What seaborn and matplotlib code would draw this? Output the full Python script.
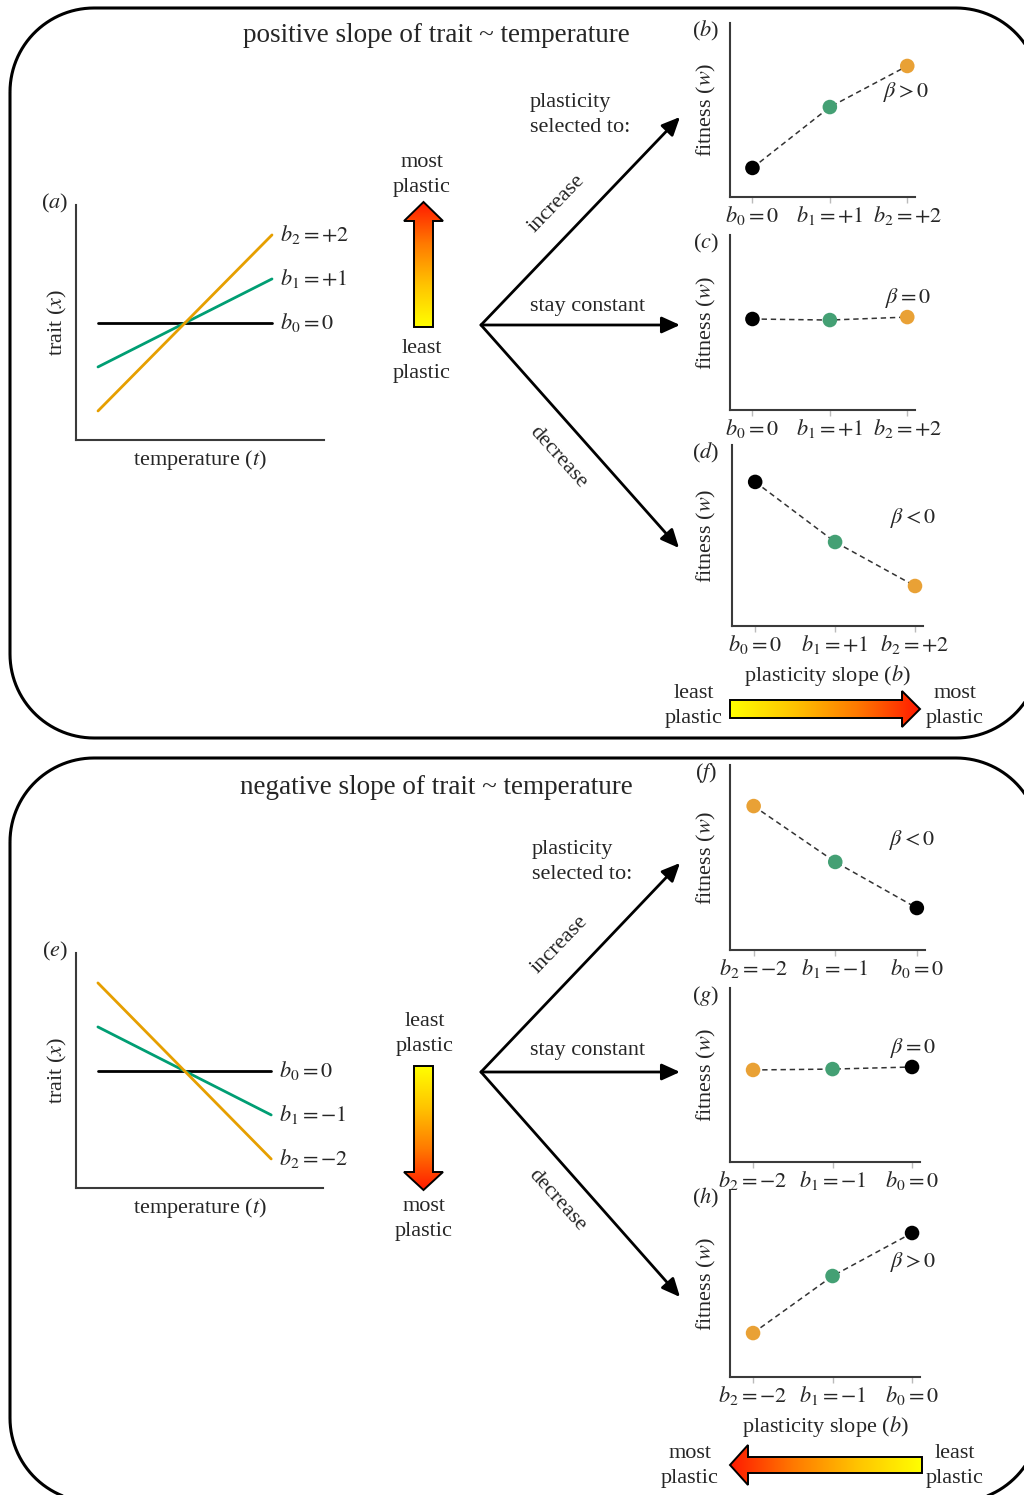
"""Plasticity selection diagram: trait ~ temperature slopes and fitness."""

import matplotlib

matplotlib.use("Agg")
import matplotlib.pyplot as plt  # noqa: E402
import numpy as np
import pandas as pd
import seaborn as sns
from matplotlib.colors import LinearSegmentedColormap
from matplotlib.patches import Polygon

# ---- data -------------------------------------------------------------
temperature = [-1.0, 1.0]
slopes_pos = [0, 1, 2]
slopes_neg = [0, -1, -2]
slope_labels_pos = [r"$b_0{=}0$", r"$b_1{=}{+}1$", r"$b_2{=}{+}2$"]
slope_labels_neg = [r"$b_0{=}0$", r"$b_1{=}{-}1$", r"$b_2{=}{-}2$"]

# fitness panels: x order as drawn on the axis
fit_ticks_pos = [r"$b_0{=}0$", r"$b_1{=}{+}1$", r"$b_2{=}{+}2$"]
fit_ticks_neg = [r"$b_2{=}{-}2$", r"$b_1{=}{-}1$", r"$b_0{=}0$"]
fit_b = [0.167, 0.517, 0.753]
fit_c = [0.520, 0.514, 0.531]
fit_d = [0.796, 0.464, 0.221]
fit_f = [0.778, 0.476, 0.227]
fit_g = [0.529, 0.534, 0.546]
fit_h = [0.235, 0.540, 0.770]
beta_labels = [r"$\beta{>}0$", r"$\beta{=}0$", r"$\beta{<}0$"]

LINE_COL = {0: "black", 1: "#009E73", 2: "#E69F00"}
DOT_COL = {0: "black", 1: "#44A074", 2: "#E9A135"}

W, H = 1024, 1495
FS = 16

sns.set_style("white")
plt.rcParams["font.family"] = ["Liberation Serif", "DejaVu Serif"]
plt.rcParams["mathtext.fontset"] = "stix"

fig = plt.figure(figsize=(W / 100, H / 100), dpi=100)

# overlay in pixel coordinates
ov = fig.add_axes([0, 0, 1, 1])
ov.axis("off")


def px_axes(left, top, right, bottom):
    ax = fig.add_axes([left / W, 1 - bottom / H, (right - left) / W, (bottom - top) / H])
    ax.set_facecolor("none")
    for s in ("top", "right"):
        ax.spines[s].set_visible(False)
    for s in ("left", "bottom"):
        ax.spines[s].set_color("#3a3a3a")
        ax.spines[s].set_linewidth(1.5)
    return ax


def rounded_box(x0, y0, x1, y1, r):
    pts = []
    corners = [((x0 + r, y0 + r), 180), ((x1 - r, y0 + r), 270),
               ((x1 - r, y1 - r), 0), ((x0 + r, y1 - r), 90)]
    for (cx, cy), a0 in corners:
        th = np.radians(np.linspace(a0, a0 + 90, 30))
        pts.extend(zip(cx + r * np.cos(th), cy + r * np.sin(th)))
    ov.add_patch(Polygon(pts, closed=True, fc="none", ec="black", lw=2.2, zorder=1))


def trait_panel(rect, slopes, labels, letter):
    ax = px_axes(*rect)
    for b, lab in zip(slopes, labels):
        df = pd.DataFrame({"t": temperature, "x": [b * t for t in temperature]})
        sns.lineplot(data=df, x="t", y="x", ax=ax, color=LINE_COL[abs(b)], lw=2.0)
        ax.text(1.09, b * 1.0 + 0.0, lab, fontsize=FS, va="center", ha="left")
    ax.set_xlim(-1.253, 1.598)
    ax.set_ylim(-2.66, 2.68)
    ax.set_xticks([])
    ax.set_yticks([])
    ax.set_xlabel("")
    ax.set_ylabel("")
    left, top, right, bottom = rect
    ov.text(55, top - 2, f"(${letter}$)", fontsize=FS, ha="center", va="center")
    ov.text(57, (top + bottom) / 2, "trait ($x$)", fontsize=FS, rotation=90,
            ha="center", va="center")
    ov.text(200, bottom + 20, "temperature ($t$)", fontsize=FS, ha="center", va="center")


def fitness_panel(rect, values, ticks, order, letter, beta, beta_xy, xlabel=False):
    ax = px_axes(*rect)
    df = pd.DataFrame({"pos": [0, 1, 2], "w": values, "b": order})
    sns.lineplot(data=df, x="pos", y="w", ax=ax, color="#333333", lw=1.1,
                 linestyle=(0, (3.5, 2.5)), zorder=2)
    sns.scatterplot(data=df, x="pos", y="w", hue="b", palette=DOT_COL, s=110,
                    edgecolor="none", legend=False, ax=ax, zorder=3)
    ax.set_xlim(-0.29, 2.1)
    ax.set_ylim(0, 1)
    ax.set_yticks([])
    ax.set_xticks([0, 1, 2], ticks)
    ax.tick_params(axis="x", bottom=True, length=4, width=1, color="#bbbbbb",
                   labelsize=FS, pad=1)
    ax.set_ylabel("")
    if xlabel:
        ax.set_xlabel("plasticity slope ($b$)", fontsize=FS, labelpad=5)
    else:
        ax.set_xlabel("")
    left, top, right, bottom = rect
    ov.text(706, top + 8, f"(${letter}$)", fontsize=FS, ha="center", va="center")
    ov.text(706, (top + bottom) / 2, "fitness ($w$)", fontsize=FS, rotation=90,
            ha="center", va="center")
    ov.text(beta_xy[0], beta_xy[1], beta, fontsize=FS, ha="center", va="center")


grad_cmap = LinearSegmentedColormap.from_list("plastic", ["#ffff00", "#ffc400", "#ff7a00", "#ff1a00"])
grad = np.linspace(0, 1, 256)


def grad_arrow(verts, extent, arr):
    poly = Polygon(verts, closed=True, fc="none", ec="black", lw=1.4, zorder=4)
    ov.add_patch(poly)
    im = ov.imshow(arr, cmap=grad_cmap, extent=extent, origin="lower", aspect="auto", zorder=3)
    im.set_clip_path(poly)


def two_lines(x, y, s, ha="center"):
    ov.text(x, y, s, fontsize=FS, ha=ha, va="center", linespacing=1.45)


def branch(origin, up, mid, down, label_pos):
    for tip in (up, mid, down):
        ov.annotate("", xy=tip, xytext=origin,
                    arrowprops=dict(arrowstyle="-|>,head_length=0.55,head_width=0.25",
                                    lw=2.0, color="black", mutation_scale=20,
                                    shrinkA=0, shrinkB=0))
    sel, inc, stay, dec = label_pos
    two_lines(sel[0], sel[1], "plasticity\nselected to:", ha="left")
    ov.text(inc[0], inc[1], "increase", fontsize=FS, ha="center", va="center",
            rotation=46, rotation_mode="anchor")
    ov.text(stay[0], stay[1], "stay constant", fontsize=FS, ha="center", va="center")
    ov.text(dec[0], dec[1], "decrease", fontsize=FS, ha="center", va="center",
            rotation=-48, rotation_mode="anchor")


# ---- panel boxes ----------------------------------------------------
rounded_box(10, 8, 1040, 738, 84)
rounded_box(10, 758, 1040, 1502, 84)

ov.text(436, 36, "positive slope of trait ~ temperature", fontsize=19.5, ha="center", va="center")
ov.text(436, 788, "negative slope of trait ~ temperature", fontsize=19.5, ha="center", va="center")

# ---- top block (positive slope) --------------------------------------
trait_panel((76, 205, 324, 440), slopes_pos, slope_labels_pos, "a")

grad_arrow([(414, 327), (433, 327), (433, 221), (443, 221), (423.5, 202), (404, 221), (414, 221)],
           (404, 443, 327, 202), grad[:, None])
two_lines(422, 175, "most\nplastic")
two_lines(422, 361, "least\nplastic")

branch((481, 325), (680, 117), (680, 325), (679, 548),
       ((530, 115), (557, 204), (588, 306), (558, 457)))

fitness_panel((730, 23, 915, 197), fit_b, fit_ticks_pos, [0, 1, 2], "b", beta_labels[0], (906, 92))
fitness_panel((730, 235, 915, 410), fit_c, fit_ticks_pos, [0, 1, 2], "c", beta_labels[1], (908, 298))
fitness_panel((732, 445, 923, 626), fit_d, fit_ticks_pos, [0, 1, 2], "d", beta_labels[2], (913, 518),
              xlabel=True)

grad_arrow([(730, 700), (902, 700), (902, 691), (920, 709), (902, 727), (902, 718), (730, 718)],
           (730, 920, 691, 727), grad[None, :])
two_lines(694, 706, "least\nplastic")
two_lines(955, 706, "most\nplastic")

# ---- bottom block (negative slope) -------------------------------------
trait_panel((76, 953, 323, 1188), slopes_neg, slope_labels_neg, "e")

grad_arrow([(414, 1066), (433, 1066), (433, 1172), (443, 1172), (423.5, 1190), (404, 1172), (414, 1172)],
           (404, 443, 1066, 1190), grad[:, None])
two_lines(425, 1034, "least\nplastic")
two_lines(424, 1219, "most\nplastic")

branch((481, 1072), (680, 863), (680, 1072), (680, 1297),
       ((532, 862), (560, 945), (588, 1050), (557, 1200)))

fitness_panel((730, 765, 925, 950), fit_f, fit_ticks_neg, [2, 1, 0], "f", beta_labels[2], (912, 840))
fitness_panel((730, 988, 920, 1162), fit_g, fit_ticks_neg, [2, 1, 0], "g", beta_labels[1], (913, 1048))
fitness_panel((730, 1190, 920, 1377), fit_h, fit_ticks_neg, [2, 1, 0], "h", beta_labels[0], (913, 1262),
              xlabel=True)

grad_arrow([(922, 1457), (748, 1457), (748, 1445), (730, 1465), (748, 1485), (748, 1473), (922, 1473)],
           (730, 922, 1445, 1485), grad[::-1][None, :])
two_lines(690, 1466, "most\nplastic")
two_lines(955, 1466, "least\nplastic")

ov.set_xlim(0, W)
ov.set_ylim(H, 0)

fig.savefig("out.png", dpi=100)
plt.close(fig)
